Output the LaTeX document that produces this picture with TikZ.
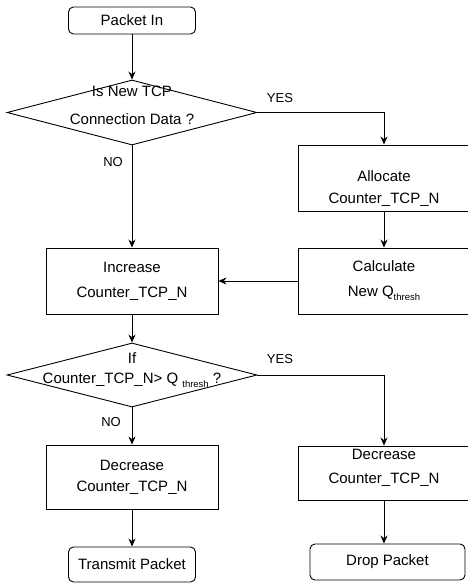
\documentclass[tikz,border=0pt]{standalone}
\usepackage{fontspec}
\setmainfont{Liberation Sans}
\usetikzlibrary{arrows.meta,shapes.geometric}
\newcommand{\subthr}{\raisebox{-4pt}{\fontsize{9.5}{10}\selectfont thresh}}

\begin{document}
\begin{tikzpicture}[x=1pt,y=-1pt,>={Stealth[length=8pt,width=7pt]},line width=0.9pt,
  font=\fontsize{15}{18}\selectfont,
  box/.style={draw,minimum width=172pt,minimum height=66pt,inner sep=0pt,align=center},
  term/.style={draw,rounded corners=5pt,minimum height=27pt,inner sep=0pt},
  decision/.style={draw,diamond,minimum width=250pt,minimum height=65pt,inner sep=0pt},
  lbl/.style={font=\fontsize{13}{15}\selectfont}]
\useasboundingbox (0,0) rectangle (468,584);
\clip (0,0) rectangle (468,584);
% left column
\node[term,minimum width=127pt] (pin) at (132,20.5) {Packet In};
\node[decision] (isnew) at (132,112.5) {};
\node[align=center] (isnewtxt) at (132,105) {Is New TCP\\[10pt]Connection Data ?};
\node[box] (inc) at (132,281) {Increase\\[7pt]Counter\_TCP\_N};
\node[decision,minimum height=64pt] (ifq) at (132,375) {};
\node[align=center] (ifqtxt) at (132,370) {If\\[2pt]Counter\_TCP\_N> Q \subthr\ ?};
\node[box,minimum height=64pt] (decl) at (132,477) {Decrease\\[3pt]Counter\_TCP\_N};
\node[term,minimum width=127pt,minimum height=35pt] (tx) at (132,564.5) {Transmit Packet};
% right column
\node[box] (alloc) at (384,178) {};
\node[align=center] (alloctxt) at (384,189) {Allocate\\[4pt]Counter\_TCP\_N};
\node[box] (calc) at (384,281) {Calculate\\[7pt]New Q\subthr};
\node[box,minimum height=54pt] (decr) at (384,473) {};
\node[align=center] (decrtxt) at (384,468) {Decrease\\[6pt]Counter\_TCP\_N};
\node[term,minimum width=155pt,minimum height=36pt] (drop) at (387.5,562) {Drop Packet};
% branch labels
\node[lbl] (yes1) at (280,98) {YES};
\node[lbl] (no1) at (113,162) {NO};
\node[lbl] (yes2) at (280,359) {YES};
\node[lbl] (no2) at (111,422) {NO};
% connectors
\draw[->] (pin.south) -- (isnew.north);
\draw[->] (isnew.east) -| (alloc.north);
\draw[->] (isnew.south) -- (inc.north);
\draw[->] (alloc.south) -- (calc.north);
\draw[->] (calc.west) -- (inc.east);
\draw[->] (inc.south) -- (ifq.north);
\draw[->] (ifq.east) -| (decr.north);
\draw[->] (ifq.south) -- (decl.north);
\draw[->] (decl.south) -- (tx.north);
\draw[->] (decr.south) -- (decr.south |- drop.north);
\end{tikzpicture}
\end{document}
